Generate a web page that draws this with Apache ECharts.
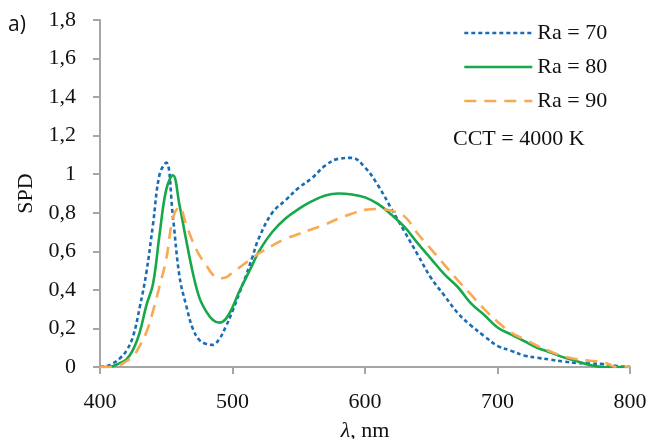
<!DOCTYPE html>
<html>
<head>
<meta charset="utf-8">
<script src="https://cdn.jsdelivr.net/npm/echarts@6/dist/echarts.min.js"></script>
<style>html,body{margin:0;padding:0;background:#fff}#c{width:650px;height:439px}</style>
</head>
<body>
<div id="c"></div>
<script>
var wavelengths = [400,405,410,415,420,425,430,435,440,445,450,455,460,465,470,475,480,485,490,495,500,505,510,515,520,530,540,550,560,570,580,590,600,610,620,630,640,650,660,670,680,690,700,710,720,730,740,750,760,770,780,790,800];
var ra70 = [0,0.005,0.02,0.045,0.085,0.16,0.31,0.49,0.74,1.0,1.06,0.78,0.47,0.32,0.20,0.14,0.12,0.115,0.145,0.21,0.29,0.38,0.47,0.57,0.67,0.80,0.865,0.93,0.98,1.045,1.08,1.085,1.035,0.94,0.82,0.70,0.58,0.46,0.37,0.28,0.215,0.16,0.11,0.085,0.06,0.048,0.038,0.028,0.021,0.018,0.015,0.005,0];
var ra80 = [0,0,0.005,0.02,0.04,0.09,0.18,0.32,0.43,0.69,0.92,0.995,0.84,0.66,0.49,0.36,0.29,0.245,0.23,0.25,0.31,0.39,0.46,0.53,0.60,0.70,0.77,0.82,0.86,0.89,0.90,0.895,0.88,0.845,0.79,0.725,0.64,0.56,0.48,0.415,0.33,0.27,0.205,0.17,0.135,0.10,0.075,0.05,0.03,0.01,0,0,0];
var ra90 = [0,0,0,0.01,0.03,0.055,0.11,0.18,0.29,0.42,0.56,0.77,0.83,0.74,0.65,0.58,0.53,0.48,0.46,0.465,0.49,0.515,0.54,0.565,0.59,0.63,0.665,0.69,0.715,0.74,0.77,0.795,0.815,0.82,0.81,0.78,0.69,0.61,0.53,0.45,0.375,0.30,0.235,0.18,0.145,0.11,0.08,0.055,0.04,0.032,0.025,0,0];
var seriesNames = ['Ra = 70','Ra = 80','Ra = 90'];
var yTickLabels = ['0','0,2','0,4','0,6','0,8','1','1,2','1,4','1,6','1,8'];
var xTickLabels = ['400','500','600','700','800'];

function pairs(ys){ return wavelengths.map(function(x,i){ return [x, ys[i]]; }); }
var FONT = 'Liberation Serif';
var chart = echarts.init(document.getElementById('c'));
chart.setOption({
  animation: false,
  backgroundColor: '#fff',
  grid: {left: 100, right: 20, top: 20, bottom: 72, containLabel: false, outerBoundsMode: 'none'},
  legend: {
    orient: 'vertical', left: 458, top: 17,
    itemWidth: 68, itemHeight: 14, itemGap: 12,
    itemStyle: {opacity: 0, borderWidth: 0},
    lineStyle: {width: 2.6},
    textStyle: {fontFamily: FONT, fontSize: 22, color: '#111', lineHeight: 22, padding: [0,0,0,0]},
    data: seriesNames
  },
  xAxis: {
    type: 'value', min: 400, max: 800, interval: 100,
    name: '{i|λ}, nm', nameLocation: 'middle', nameGap: 53,
    nameTextStyle: {fontFamily: FONT, fontSize: 22, color: '#111', rich: {i: {fontFamily: FONT, fontStyle: 'italic', fontSize: 22, color: '#111'}}},
    axisLine: {lineStyle: {color: '#a6a6a6', width: 2}},
    axisTick: {show: true, length: 7, lineStyle: {color: '#a6a6a6', width: 2}},
    splitLine: {show: false},
    axisLabel: {fontFamily: FONT, fontSize: 22, color: '#111', margin: 24,
      formatter: function(v){ return xTickLabels[Math.round((v-400)/100)]; }}
  },
  yAxis: {
    type: 'value', min: 0, max: 1.8, interval: 0.2,
    name: 'SPD', nameLocation: 'middle', nameGap: 62, nameRotate: 90,
    nameTextStyle: {fontFamily: FONT, fontSize: 22, color: '#111'},
    axisLine: {show: true, lineStyle: {color: '#a6a6a6', width: 2}},
    axisTick: {show: true, length: 7, lineStyle: {color: '#a6a6a6', width: 2}},
    splitLine: {show: false},
    axisLabel: {fontFamily: FONT, fontSize: 22, color: '#111', margin: 24,
      formatter: function(v){ return yTickLabels[Math.round(v/0.2)]; }}
  },
  graphic: [
    {type: 'text', left: 8, top: 15, style: {text: 'a)', fontFamily: 'Open Sans', fontSize: 21, fill: '#111'}},
    {type: 'text', left: 453, top: 128, style: {text: 'CCT = 4000 K', fontFamily: FONT, fontSize: 22, fill: '#111'}}
  ],
  series: [
    {name: seriesNames[0], type: 'line', data: pairs(ra70), symbol: 'none', smooth: 0.4,
     lineStyle: {color: '#1a6db4', width: 2.6, type: [4,3]}, itemStyle: {color: '#1a6db4'}},
    {name: seriesNames[1], type: 'line', data: pairs(ra80), symbol: 'none', smooth: 0.4,
     lineStyle: {color: '#17a84b', width: 2.6, type: 'solid'}, itemStyle: {color: '#17a84b'}},
    {name: seriesNames[2], type: 'line', data: pairs(ra90), symbol: 'none', smooth: 0.4,
     lineStyle: {color: '#f8a952', width: 2.6, type: [12,8]}, itemStyle: {color: '#f8a952'}}
  ]
});
</script>
</body>
</html>
